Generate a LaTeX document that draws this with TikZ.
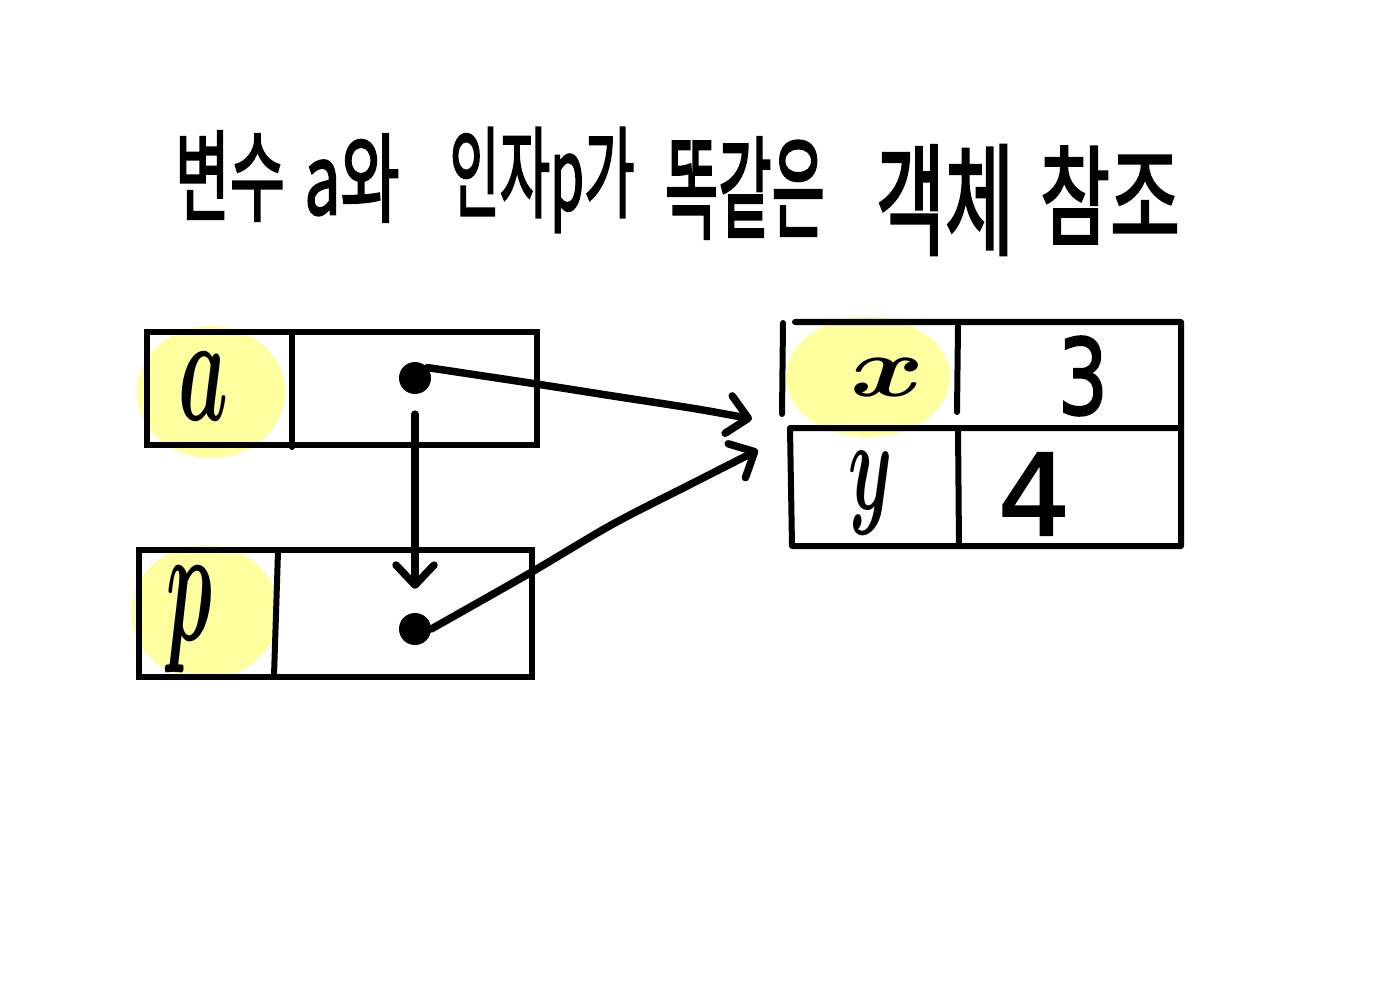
\documentclass[tikz,border=0pt]{standalone}
\usepackage{fontspec}
\usetikzlibrary{arrows.meta}
\newfontfamily\kfont{Noto Sans CJK KR}[FakeBold=2.5]
\newfontfamily\lfont{DejaVu Sans}[FakeBold=2]
\definecolor{hlyellow}{RGB}{255,255,160}
\begin{document}
\begin{tikzpicture}[x=1pt,y=-1pt,
  boxline/.style={line width=6pt, line join=round, line cap=round},
  cellbox/.style={draw, line width=6pt, rectangle, inner sep=0pt},
  ptr/.style={line width=7.5pt, line cap=round, line join=round,
    -{Straight Barb[round,length=20pt,width=38pt]}},
  hl/.style={fill=hlyellow},
  dotn/.style={circle, fill=black, inner sep=0pt, minimum size=32pt},
  lab/.style={inner sep=0pt},
  ttl/.style={inner sep=0pt}]
\useasboundingbox[fill=white] (0,0) rectangle (1384,1000);

% title
\node[ttl] (t1) at (230,176) {\resizebox{110pt}{82pt}{\kfont 변수}};
\node[ttl] (t2) at (352,178) {\resizebox{95pt}{80pt}{\kfont a와}};
\node[ttl] (t3) at (542,180) {\resizebox{185pt}{82pt}{\kfont 인자p가}};
\node[ttl] (t4) at (745,188) {\resizebox{160pt}{92pt}{\kfont 똑같은}};
\node[ttl] (t5) at (945,200) {\resizebox{138pt}{100pt}{\kfont 객체}};
\node[ttl] (t6) at (1110,195) {\resizebox{140pt}{90pt}{\kfont 참조}};

% highlights
\fill[hl] (211,392) ellipse [x radius=74pt, y radius=66pt];
\fill[hl] (205,612) ellipse [x radius=74pt, y radius=67pt];
\fill[hl] (868,377) ellipse [x radius=82pt, y radius=60pt];

% variable boxes
\node[cellbox, minimum width=390pt, minimum height=113pt] (boxA) at (342,388.5) {};
\draw[boxline] (292,332) -- (292,447);
\node[cellbox, minimum width=393pt, minimum height=127pt] (boxP) at (335.5,613.5) {};
\draw[boxline] (278,552) -- (274,676);

% object box
\draw[boxline] (795,322) -- (1181,322) -- (1181,546) -- (792,546) -- (790,428) -- (1181,428);
\draw[boxline] (783,323) -- (782,414);
\draw[boxline] (958,326) -- (957,412);
\draw[boxline] (958,428) -- (959,546);

% labels
\node[lab] (la) at (203,386) {\resizebox{50pt}{68pt}{\boldmath$a$}};
\node[lab] (lp) at (190,620) {\resizebox{46pt}{74pt}{\boldmath$p$}};
\node[lab] (lx) at (888,377) {\resizebox{74pt}{38pt}{\boldmath$x$}};
\node[lab] (l3) at (1083,376) {\resizebox{50pt}{78pt}{\lfont 3}};
\node[lab] (ly) at (871,493) {\resizebox{44pt}{58pt}{\boldmath$y$}};
\node[lab] (l4) at (1034,494) {\resizebox{72pt}{82pt}{\lfont 4}};

% dots
\node[dotn] (dotA) at (415,378) {};
\node[dotn] (dotP) at (415,629) {};

% targets
\coordinate (tgt1) at (752,419);
\coordinate (tgt2) at (758,450);

% connectors
\draw[ptr] plot[smooth, tension=0.5] coordinates {(dotA.40) (530,383) (613,396) (697,409) (tgt1)};
\draw[ptr] ([yshift=-20pt]dotA.south) -- ([yshift=24pt]dotP.north);
\draw[ptr] plot[smooth, tension=0.5] coordinates {(dotP.east) (530,573) (613,524) (697,481) (tgt2)};
\end{tikzpicture}
\end{document}
